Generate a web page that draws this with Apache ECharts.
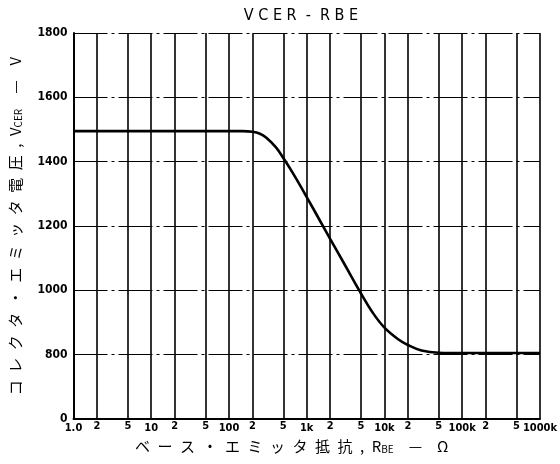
<!DOCTYPE html>
<html><head><meta charset="utf-8">
<script src="https://cdn.jsdelivr.net/npm/echarts@6/dist/echarts.min.js"></script>
<style>html,body{margin:0;padding:0;background:#fff}#c{width:560px;height:464px}</style>
</head><body><div id="c"></div>
<script>
// Base-emitter resistance (ohm) and VCER (V)
const rbe  = [1, 10, 100, 150, 200, 250, 300, 400, 520, 700, 1000, 1500, 2000, 3000, 5000, 7000, 10000, 15000, 20000, 30000, 50000, 100000, 1000000];
const vcer = [1495, 1495, 1495, 1495, 1493, 1487, 1475, 1445, 1405, 1355, 1290, 1214, 1160, 1085, 990, 932, 884, 848, 830, 813, 806, 805, 805];
// x tick labels at decades, and the 2 / 5 gridlines in each decade
const decadeTicks = [1, 10, 100, 1000, 10000, 100000, 1000000];
const decadeLabels = ['1.0', '10', '100', '1k', '10k', '100k', '1000k'];
const minorTicks = [2, 5, 20, 50, 200, 500, 2000, 5000, 20000, 50000, 200000, 500000];
const minorLabels = ['2', '5', '2', '5', '2', '5', '2', '5', '2', '5', '2', '5'];
// y ticks (bottom is a broken axis labelled 0)
const yTicks = [600, 800, 1000, 1200, 1400, 1600, 1800];
const yTickLabels = ['0', '800', '1000', '1200', '1400', '1600', '1800'];

const sp = '\u2002';
const spaced = s => s.split('').join(sp);
const lblFont = 'DejaVu Sans Condensed';

const chart = echarts.init(document.getElementById('c'), null, {renderer: 'canvas'});
chart.setOption({
  animation: false,
  backgroundColor: '#fff',
  title: {
    text: 'V C E R  -  R B E',
    left: 296, top: 3, textAlign: 'center',
    textStyle: {fontFamily: 'DejaVu Sans Condensed', fontSize: 16, fontWeight: 'normal', color: '#000'}
  },
  grid: {left: 71, right: 20, top: 33, bottom: 45, containLabel: false},
  xAxis: {
    type: 'log', logBase: 10, min: 1, max: 1000000,
    axisLine: {show: true, lineStyle: {color: '#000', width: 2}},
    axisTick: {show: false},
    splitLine: {show: true, lineStyle: {color: '#000', width: 1.6}},
    axisLabel: {
      color: '#000', fontFamily: lblFont, fontWeight: 'bold', fontSize: 11, margin: 4,
      formatter: v => { const i = decadeTicks.findIndex(t => Math.abs(t - v) / t < 1e-6); return i >= 0 ? decadeLabels[i] : ''; }
    },
    name: '{a|' + spaced('ベース・エミッタ抵抗,') + sp + 'R}{s|BE}{a|' + sp + sp + '—' + sp + sp + 'Ω}',
    nameLocation: 'middle', nameGap: 19,
    nameTextStyle: {
      padding: [0, 30, 0, 0],
      rich: {
        a: {fontFamily: 'Noto Sans CJK JP', fontSize: 15, color: '#000'},
        s: {fontFamily: 'Noto Sans CJK JP', fontSize: 10, color: '#000', verticalAlign: 'bottom', padding: [6, 0, 0, 0]}
      }
    }
  },
  yAxis: {
    type: 'value', min: 600, max: 1800, interval: 200,
    axisLine: {show: true, lineStyle: {color: '#000', width: 2}},
    axisTick: {show: false},
    splitLine: {show: true, lineStyle: {color: '#000', width: 1.2, type: [34, 4, 3, 4]}},
    axisLabel: {
      color: '#000', fontFamily: lblFont, fontWeight: 'bold', fontSize: 12, margin: 6,
      formatter: v => { const i = yTicks.indexOf(v); return i >= 0 ? yTickLabels[i] : ''; }
    },
    name: '{a|' + spaced('コレクタ・エミッタ電圧,') + sp + 'V}{s|CER}{a|' + sp + sp + '—' + sp + sp + 'V}',
    nameLocation: 'middle', nameGap: 50, nameRotate: 90,
    nameTextStyle: {
      rich: {
        a: {fontFamily: 'Noto Sans CJK JP', fontSize: 15, color: '#000'},
        s: {fontFamily: 'Noto Sans CJK JP', fontSize: 10, color: '#000', verticalAlign: 'bottom', padding: [6, 0, 0, 0]}
      }
    }
  },
  series: [{
    type: 'line',
    data: rbe.map((x, i) => [x, vcer[i]]),
    smooth: 0.4,
    showSymbol: false,
    lineStyle: {color: '#000', width: 2.6},
    markLine: {
      silent: true, symbol: 'none',
      lineStyle: {color: '#000', width: 1.6, type: 'solid'},
      label: {position: 'start', distance: 2, color: '#000', fontFamily: lblFont, fontWeight: 'bold', fontSize: 11},
      data: minorTicks.map((v, i) => ({xAxis: v, label: {formatter: minorLabels[i]}}))
    }
  }]
});
</script></body></html>
